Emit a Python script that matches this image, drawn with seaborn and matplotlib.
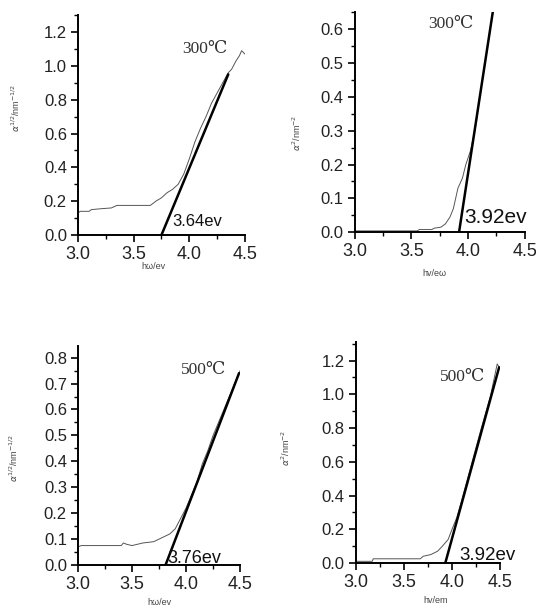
import numpy as np
import pandas as pd
import seaborn as sns
import matplotlib.pyplot as plt
from matplotlib.ticker import MultipleLocator

# --- data ---
# top-left: 300 C, alpha^1/2
tl_x = [3.0, 3.02, 3.1, 3.12, 3.2, 3.3, 3.35, 3.45, 3.55, 3.65, 3.7, 3.75, 3.8, 3.85, 3.9, 3.95,
        4.0, 4.05, 4.1, 4.15, 4.2, 4.25, 4.3, 4.35, 4.38, 4.42, 4.45, 4.47, 4.5]
tl_y = [0.13, 0.14, 0.14, 0.15, 0.155, 0.16, 0.175, 0.175, 0.175, 0.175, 0.2, 0.22, 0.25, 0.27,
        0.3, 0.36, 0.45, 0.55, 0.63, 0.7, 0.78, 0.84, 0.9, 0.96, 0.98, 1.03, 1.06, 1.09, 1.07]
tl_fit_x = [3.75, 4.35]
tl_fit_y = [0.0, 0.95]

# top-right: 300 C, alpha^2
tr_x = [3.0, 3.55, 3.57, 3.68, 3.7, 3.76, 3.8, 3.84, 3.87, 3.89, 3.91, 3.95, 3.98, 4.02, 4.06,
        4.1, 4.15, 4.2, 4.23]
tr_y = [0.004, 0.004, 0.008, 0.008, 0.012, 0.015, 0.025, 0.045, 0.07, 0.1, 0.13, 0.16, 0.2,
        0.24, 0.3, 0.39, 0.5, 0.61, 0.67]
tr_fit_x = [3.92, 4.22]
tr_fit_y = [0.0, 0.655]

# bottom-left: 500 C, alpha^1/2
bl_x = [3.0, 3.03, 3.2, 3.4, 3.42, 3.45, 3.5, 3.55, 3.6, 3.7, 3.75, 3.8, 3.85, 3.9, 3.95,
        4.0, 4.05, 4.1, 4.15, 4.2, 4.25, 4.3, 4.35, 4.4, 4.45, 4.5]
bl_y = [0.07, 0.075, 0.075, 0.075, 0.085, 0.08, 0.075, 0.08, 0.085, 0.09, 0.1, 0.11, 0.12,
        0.14, 0.18, 0.22, 0.27, 0.32, 0.39, 0.44, 0.5, 0.55, 0.6, 0.65, 0.7, 0.75]
bl_fit_x = [3.81, 4.49]
bl_fit_y = [0.0, 0.74]

# bottom-right: 500 C, alpha^2
br_x = [3.0, 3.17, 3.18, 3.67, 3.7, 3.78, 3.85, 3.9, 3.96, 4.0, 4.05, 4.1, 4.2, 4.3, 4.4,
        4.47, 4.49]
br_y = [0.01, 0.01, 0.025, 0.025, 0.04, 0.05, 0.07, 0.1, 0.14, 0.2, 0.27, 0.37, 0.58, 0.79,
        0.99, 1.18, 1.16]
br_fit_x = [3.93, 4.49]
br_fit_y = [0.0, 1.16]

panels = [
    dict(x=tl_x, y=tl_y, fx=tl_fit_x, fy=tl_fit_y, rect=[0.1455, 0.6135, 0.3115, 0.3615],
         ylim=1.3, major=0.2, temp="300℃", temp_xy=(4.14, 1.10), gap="3.64ev",
         gap_xy=(3.85, 0.055), gap_size=12,
         ylabel=r"$\alpha^{1/2}$/nm$^{-1/2}$", ylab_xy=(-0.335, 0.58),
         xlabel="hω/ev", xlab_xy=(0.45, -0.123)),
    dict(x=tr_x, y=tr_y, fx=tr_fit_x, fy=tr_fit_y, rect=[0.662, 0.618, 0.317, 0.362],
         ylim=0.65, major=0.1, temp="300℃", temp_xy=(3.85, 0.615), gap="3.92ev",
         gap_xy=(3.97, 0.027), gap_size=15,
         ylabel=r"$\alpha^{2}$/nm$^{-2}$", ylab_xy=(-0.306, 0.45),
         xlabel="hv/eω", xlab_xy=(0.47, -0.168)),
    dict(x=bl_x, y=bl_y, fx=bl_fit_x, fy=bl_fit_y, rect=[0.1455, 0.0707, 0.3025, 0.3603],
         ylim=0.845, major=0.1, temp="500℃", temp_xy=(4.16, 0.753), gap="3.76ev",
         gap_xy=(3.83, 0.008), gap_size=13,
         ylabel=r"$\alpha^{1/2}$/nm$^{-1/2}$", ylab_xy=(-0.358, 0.49),
         xlabel="hω/ev", xlab_xy=(0.5, -0.15)),
    dict(x=br_x, y=br_y, fx=br_fit_x, fy=br_fit_y, rect=[0.664, 0.074, 0.269, 0.3635],
         ylim=1.31, major=0.2, temp="500℃", temp_xy=(4.11, 1.10), gap="3.92ev",
         gap_xy=(4.08, 0.02), gap_size=13.5,
         ylabel=r"$\alpha^{2}$/nm$^{-2}$", ylab_xy=(-0.44, 0.52),
         xlabel="hv/em", xlab_xy=(0.55, -0.15)),
]

sns.set_style("ticks")
plt.rcParams["font.family"] = ["Liberation Sans", "DejaVu Sans"]
plt.rcParams["mathtext.fontset"] = "dejavusans"

fig = plt.figure(figsize=(5.36, 6.08), dpi=100)

for p in panels:
    ax = fig.add_axes(p["rect"])
    curve = pd.DataFrame({"x": p["x"], "y": p["y"]})
    fit = pd.DataFrame({"x": p["fx"], "y": p["fy"]})

    # measured curve
    sns.lineplot(curve, x="x", y="y", ax=ax, color="#555555", linewidth=0.7,
                 estimator=None, sort=False)
    # linear fit
    sns.lineplot(fit, x="x", y="y", ax=ax, color="black", linewidth=1.8,
                 estimator=None, sort=False)

    ax.set_xlim(3.0, 4.5)
    ax.set_ylim(0, p["ylim"])
    ax.xaxis.set_major_locator(MultipleLocator(0.5))
    ax.xaxis.set_minor_locator(MultipleLocator(0.25))
    ax.yaxis.set_major_locator(MultipleLocator(p["major"]))
    ax.yaxis.set_minor_locator(MultipleLocator(p["major"] / 2))
    ax.xaxis.set_major_formatter(plt.FormatStrFormatter("%.1f"))
    ax.yaxis.set_major_formatter(plt.FormatStrFormatter("%.1f"))

    sns.despine(ax=ax)
    for s in ["left", "bottom"]:
        ax.spines[s].set_linewidth(1.4)
        ax.spines[s].set_color("black")
    ax.tick_params(which="major", length=5, width=1.2, colors="black",
                   labelcolor="#222222", pad=3)
    ax.tick_params(axis="y", which="major", labelsize=12)
    ax.tick_params(axis="x", which="major", labelsize=13)
    ax.tick_params(which="minor", length=3, width=1.0, colors="black")

    ax.set_xlabel(p["xlabel"], fontsize=6.5, color="#444444")
    ax.xaxis.set_label_coords(*p["xlab_xy"])
    ax.set_ylabel(p["ylabel"], fontsize=6.5, color="#444444")
    ax.yaxis.set_label_coords(*p["ylab_xy"])

    ax.text(*p["temp_xy"], p["temp"], fontsize=12.5, color="#333333",
            family=["Liberation Serif", "DejaVu Serif"], ha="center", va="center")
    ax.text(*p["gap_xy"], p["gap"], fontsize=p["gap_size"], color="#111111",
            ha="left", va="baseline")

fig.savefig("out.png", dpi=100)
